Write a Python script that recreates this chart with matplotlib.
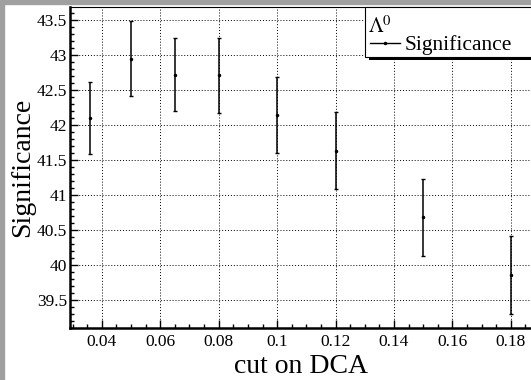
import matplotlib
matplotlib.use('Agg')
import matplotlib.pyplot as plt
from matplotlib.patches import Rectangle
from matplotlib.lines import Line2D
from matplotlib.ticker import MultipleLocator

plt.rcParams['font.family'] = ['Liberation Serif', 'DejaVu Serif']
plt.rcParams['mathtext.fontset'] = 'stix'

# values
dca_cut = [0.036, 0.05, 0.065, 0.08, 0.10, 0.12, 0.15, 0.18]
significance = [42.10, 42.95, 42.72, 42.71, 42.14, 41.63, 40.68, 39.86]
sig_err = [0.51, 0.53, 0.52, 0.54, 0.54, 0.55, 0.55, 0.56]

W, H = 531, 380
fig = plt.figure(figsize=(W / 100, H / 100), dpi=100)
fig.patch.set_facecolor('white')

def px(x0, y0, x1, y1):
    # pixel box (top-left origin) -> figure fraction rect
    return (x0 / W, 1 - y1 / H, (x1 - x0) / W, (y1 - y0) / H)

# grey bevel of the canvas on top and left
for box in [(0, 0, W, 4), (0, 0, 3.5, H)]:
    gx, gy, gw, gh = px(*box)
    fig.patches.append(Rectangle((gx, gy), gw, gh, transform=fig.transFigure,
                                 color='#a0a0a0', zorder=0))

ax = fig.add_axes(px(70, 7, 531, 328))
ax.errorbar(dca_cut, significance, yerr=sig_err, fmt='.', color='black',
            ms=3, elinewidth=1.1, capsize=1.6, capthick=1.0, zorder=3)

ax.set_xlim(0.0291, 0.1869)
ax.set_ylim(39.1, 43.686)
ax.xaxis.set_major_locator(MultipleLocator(0.02))
ax.xaxis.set_minor_locator(MultipleLocator(0.005))
ax.yaxis.set_major_locator(MultipleLocator(0.5))
ax.yaxis.set_minor_locator(MultipleLocator(0.1))
ax.xaxis.set_major_formatter(plt.FuncFormatter(lambda v, p: f'{v:g}'))
ax.yaxis.set_major_formatter(plt.FuncFormatter(lambda v, p: f'{v:g}'))

ax.tick_params(which='both', direction='in', top=False, right=False, labelsize=12.5, width=1)
ax.tick_params(which='major', length=6)
ax.tick_params(which='minor', length=3)
ax.tick_params(axis='y', pad=2)
ax.tick_params(axis='x', pad=4)

ax.grid(True, which='major', color='black', linestyle=(0, (1, 2)), linewidth=0.7)
ax.set_axisbelow(True)

ax.spines['left'].set_linewidth(1.8)
ax.spines['bottom'].set_linewidth(1.8)
ax.spines['top'].set_linewidth(0.8)
ax.spines['right'].set_visible(False)

ax.set_xlabel('cut on DCA', fontsize=20, labelpad=3.5)
ax.set_ylabel('Significance', fontsize=20, labelpad=1)

# legend box drawn like the ROOT TLegend with its shadow
sx, sy, sw, sh = px(369, 11, 540, 60)
fig.patches.append(Rectangle((sx, sy), sw, sh, transform=fig.transFigure,
                             facecolor='black', edgecolor='none', zorder=5))
bx, by, bw, bh = px(365, 7, 536, 57)
fig.patches.append(Rectangle((bx, by), bw, bh, transform=fig.transFigure,
                             facecolor='white', edgecolor='black', linewidth=0.8, zorder=6))
fig.text(368 / W, 1 - 33 / H, r'$\Lambda^{0}$', fontsize=15, zorder=7)
fig.lines.append(Line2D([370 / W, 400 / W], [1 - 43 / H, 1 - 43 / H], transform=fig.transFigure,
                        color='black', linewidth=1, zorder=7))
fig.lines.append(Line2D([385 / W], [1 - 43 / H], transform=fig.transFigure,
                        color='black', marker='.', ms=3, zorder=7))
fig.text(405 / W, 1 - 50 / H, 'Significance', fontsize=15.5, zorder=7)

fig.savefig('out.png', dpi=100)
